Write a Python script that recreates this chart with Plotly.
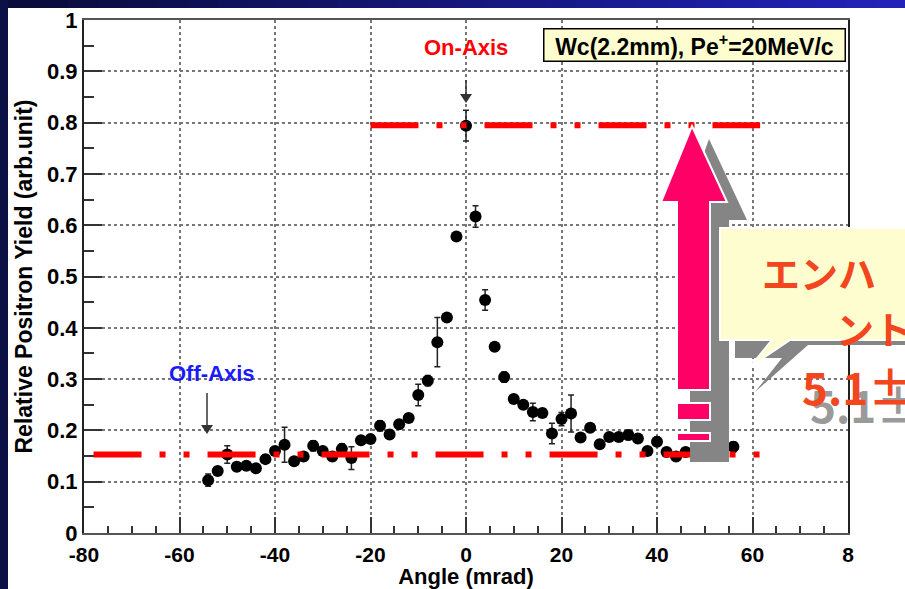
import plotly.graph_objects as go

# ---------------- data ----------------
angles = [-54, -52, -50, -48, -46, -44, -42, -40, -38, -36, -34, -32, -30, -28, -26, -24,
          -22, -20, -18, -16, -14, -12, -10, -8, -6, -4, -2, 0, 2, 4, 6, 8, 10, 12, 14,
          16, 18, 20, 22, 24, 26, 28, 30, 32, 34, 36, 38, 40, 42, 44, 46, 56]
yields = [0.103, 0.121, 0.153, 0.129, 0.131, 0.126, 0.144, 0.160, 0.172, 0.140, 0.149,
          0.170, 0.160, 0.149, 0.164, 0.146, 0.181, 0.183, 0.209, 0.192, 0.212, 0.224,
          0.269, 0.297, 0.372, 0.420, 0.578, 0.794, 0.617, 0.454, 0.363, 0.304, 0.261,
          0.250, 0.236, 0.234, 0.194, 0.222, 0.233, 0.186, 0.205, 0.173, 0.187, 0.187,
          0.191, 0.184, 0.160, 0.178, 0.158, 0.149, 0.158, 0.168]
errors = [0.012, 0.008, 0.017, 0.008, 0.008, 0.008, 0.008, 0.008, 0.034, 0.008, 0.008,
          0.010, 0.008, 0.008, 0.010, 0.022, 0.008, 0.008, 0.010, 0.008, 0.008, 0.008,
          0.021, 0.010, 0.048, 0.006, 0.006, 0.030, 0.021, 0.020, 0.008, 0.010, 0.008,
          0.008, 0.017, 0.008, 0.020, 0.013, 0.036, 0.008, 0.008, 0.008, 0.008, 0.008,
          0.009, 0.008, 0.008, 0.009, 0.008, 0.008, 0.008, 0.010]

on_axis_level = 0.795
off_axis_level = 0.153
on_axis_span = [-20, 61.6]
off_axis_span = [-78, 61.6]

x_tickvals = [-80, -60, -40, -20, 0, 20, 40, 60, 80]
x_ticktext = ["-80", "-60", "-40", "-20", "0", "20", "40", "60", "8"]
y_tickvals = [0, 0.1, 0.2, 0.3, 0.4, 0.5, 0.6, 0.7, 0.8, 0.9, 1.0]
y_ticktext = ["0", "0.1", "0.2", "0.3", "0.4", "0.5", "0.6", "0.7", "0.8", "0.9", "1"]

# ---------------- layout geometry (pixels) ----------------
W, H = 905, 589
L, R, T, B = 84, 848, 20, 533


def px(xp):
    return (xp - L) / (R - L)


def py(yp):
    return (B - yp) / (B - T)


def poly(points):
    return "M " + " L ".join(f"{px(a):.5f},{py(b):.5f}" for a, b in points) + " Z"


FONT = "Liberation Sans, Arial, sans-serif"
JP = "Noto Sans CJK JP"
NAVY = "#0b1045"
RED_LINE = "#ff0000"
PINK = "#ff0066"
GRAY = "#858585"
YELLOW = "#fdfdcf"
JP_RED = "#f2461e"

fig = go.Figure()

fig.add_trace(go.Scatter(
    x=angles, y=yields, mode="markers",
    marker=dict(color="black", size=12),
    error_y=dict(type="data", array=errors, color="#222222", thickness=1.5, width=3),
    showlegend=False, hoverinfo="x+y"))

dash = "48px,18px,6px,18px,6px,18px"
fig.add_trace(go.Scatter(x=off_axis_span, y=[off_axis_level] * 2, mode="lines",
                         line=dict(color=RED_LINE, width=6, dash=dash), showlegend=False))
fig.add_trace(go.Scatter(x=on_axis_span, y=[on_axis_level] * 2, mode="lines",
                         line=dict(color=RED_LINE, width=6, dash=dash), showlegend=False))

shapes = []
# white slide area and gradient header
shapes.append(dict(type="rect", xref="paper", yref="paper", x0=px(8), x1=px(W + 5),
                   y0=py(8), y1=py(H + 5), fillcolor="white", line=dict(width=0), layer="below"))
n = 30
for i in range(n):
    t = i / (n - 1)
    r = int(10 + (34 - 10) * t)
    g = int(12 + (34 - 12) * t)
    b = int(60 + (185 - 60) * t)
    shapes.append(dict(type="rect", xref="paper", yref="paper",
                       x0=px(8 + (W - 8) * i / n), x1=px(8 + (W - 8) * (i + 1) / n + 1),
                       y0=py(-2), y1=py(8), fillcolor=f"rgb({r},{g},{b})",
                       line=dict(width=0), layer="below"))


def arrow_down(x, y0, y1):
    shapes.append(dict(type="line", xref="paper", yref="paper", x0=px(x), x1=px(x),
                       y0=py(y0), y1=py(y1 - 6), line=dict(color="#333333", width=1.5),
                       layer="above"))
    shapes.append(dict(type="path", xref="paper", yref="paper",
                       path=poly([(x - 6, y1 - 9), (x + 6, y1 - 9), (x, y1)]),
                       fillcolor="#333333", line=dict(width=0), layer="above"))


arrow_down(466, 80, 103)
arrow_down(207, 393, 434)

# gray shadow of callout
shapes.append(dict(type="path", xref="paper", yref="paper",
                   path=poly([(735, 250), (915, 250), (915, 345), (808, 345), (755, 392),
                              (782, 358), (735, 358)]),
                   fillcolor=GRAY, line=dict(width=0), layer="above"))
# gray shadow of arrow
shapes.append(dict(type="path", xref="paper", yref="paper",
                   path=poly([(709, 139), (747, 220), (729, 220), (729, 462), (690, 462),
                              (690, 380), (696, 380), (696, 220), (680, 220)]),
                   fillcolor=GRAY, line=dict(width=0), layer="above"))
# yellow callout
shapes.append(dict(type="path", xref="paper", yref="paper",
                   path=poly([(720, 228), (915, 228), (915, 340), (790, 340), (750, 367),
                              (772, 340), (720, 340)]),
                   fillcolor=YELLOW, line=dict(color="white", width=2), layer="above"))
# pink arrow
shapes.append(dict(type="path", xref="paper", yref="paper",
                   path=poly([(692, 126), (727, 202), (710, 202), (710, 390), (677, 390),
                              (677, 202), (661, 202)]),
                   fillcolor=PINK, line=dict(color="white", width=2), layer="above"))
shapes.append(dict(type="rect", xref="paper", yref="paper", x0=px(677), x1=px(710),
                   y0=py(420), y1=py(403), fillcolor=PINK,
                   line=dict(color="white", width=2), layer="above"))
shapes.append(dict(type="rect", xref="paper", yref="paper", x0=px(677), x1=px(710),
                   y0=py(441), y1=py(433), fillcolor=PINK,
                   line=dict(color="white", width=2), layer="above"))

annotations = []
annotations.append(dict(xref="paper", yref="paper", x=px(694), y=py(45),
                        text="<b>Wc(2.2mm), Pe<sup>+</sup>=20MeV/c</b>", showarrow=False,
                        font=dict(family=FONT, size=23, color="black"),
                        bgcolor=YELLOW, bordercolor="black", borderwidth=1.5,
                        width=298, height=29, xanchor="center", yanchor="middle"))
annotations.append(dict(xref="paper", yref="paper", x=px(466), y=py(47),
                        text="<b>On-Axis</b>", showarrow=False,
                        xanchor="center", yanchor="middle",
                        font=dict(family=FONT, size=22, color="#ff0000")))
annotations.append(dict(xref="paper", yref="paper", x=px(212), y=py(373),
                        text="<b>Off-Axis</b>", showarrow=False,
                        xanchor="center", yanchor="middle",
                        font=dict(family=FONT, size=22, color="#1a1aff")))
# callout text (cut by the slide edge, as in the original)
annotations.append(dict(xref="paper", yref="paper", x=px(760), y=py(271),
                        text="<b>エンハ</b>", showarrow=False, xanchor="left",
                        yanchor="middle", font=dict(family=JP, size=38, color=JP_RED)))
annotations.append(dict(xref="paper", yref="paper", x=px(834), y=py(327),
                        text="<b>ント</b>", showarrow=False, xanchor="left",
                        yanchor="middle", font=dict(family=JP, size=38, color=JP_RED)))
annotations.append(dict(xref="paper", yref="paper", x=px(808), y=py(404),
                        text="<b>5.1±</b>", showarrow=False, xanchor="left",
                        yanchor="middle", font=dict(family=JP, size=44, color="#9a9a9a")))
annotations.append(dict(xref="paper", yref="paper", x=px(800), y=py(386),
                        text="<b>5.1±</b>", showarrow=False, xanchor="left",
                        yanchor="middle", font=dict(family=JP, size=44, color=JP_RED)))

fig.update_layout(
    width=W, height=H,
    margin=dict(l=L, r=W - R, t=T, b=H - B, pad=0),
    paper_bgcolor=NAVY, plot_bgcolor="white",
    shapes=shapes, annotations=annotations,
    showlegend=False,
    font=dict(family=FONT, color="black"),
)
fig.update_xaxes(
    range=[-80, 80], tickvals=x_tickvals, ticktext=[f"<b>{t}</b>" for t in x_ticktext],
    automargin=False,
    ticks="inside", ticklen=16, tickwidth=1.5, tickcolor="#333",
    minor=dict(dtick=5, ticks="inside", ticklen=7, tickwidth=1.5, tickcolor="#333", showgrid=False),
    showgrid=True, gridcolor="#777", griddash="dot", gridwidth=1.5,
    showline=True, linecolor="#555", linewidth=2, mirror=True, zeroline=False,
    tickfont=dict(family=FONT, size=21, color="black"),
    ticklabelstandoff=2,
    title=dict(text="<b>Angle (mrad)</b>", font=dict(family=FONT, size=22, color="black"), standoff=0),
)
fig.update_yaxes(
    range=[0, 1], tickvals=y_tickvals, ticktext=[f"<b>{t}</b>" for t in y_ticktext],
    automargin=False,
    ticks="inside", ticklen=18, tickwidth=1.5, tickcolor="#333",
    minor=dict(dtick=0.05, ticks="inside", ticklen=10, tickwidth=1.5, tickcolor="#333", showgrid=False),
    showgrid=True, gridcolor="#777", griddash="dot", gridwidth=1.5,
    showline=True, linecolor="#222", linewidth=2, mirror=True, zeroline=False,
    tickfont=dict(family=FONT, size=22, color="black"),
    title=dict(text="<b>Relative Positron Yield (arb.unit)</b>",
               font=dict(family=FONT, size=23, color="black"), standoff=8),
)

fig.write_html(
    "out.html",
    config={"displayModeBar": False},
    post_script=f"document.body.style.margin='0';document.body.style.background='{NAVY}';"
                "document.body.style.overflow='hidden';",
)
